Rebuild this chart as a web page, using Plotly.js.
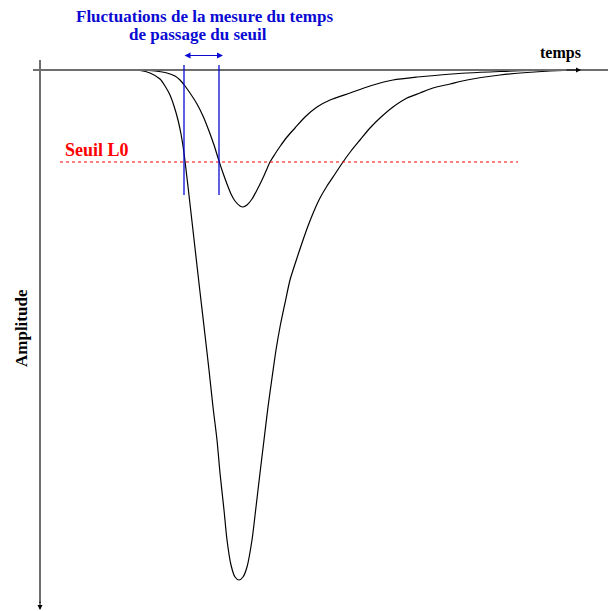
<!DOCTYPE html>
<html>
<head>
<meta charset="utf-8">
<script src="https://cdn.plot.ly/plotly-3.0.1.min.js"></script>
<style>html,body{margin:0;padding:0;background:#fff;}#chart{width:608px;height:611px;}</style>
</head>
<body>
<div id="chart"></div>
<script>
// time (horizontal) and amplitude (depth below baseline, downward positive)
const bigT = [40,100,130,140,150,160,165,170,174,178,181,183,185,190,195,200,205,209,213,217,220,224,227,231,235,239,243,247,252,256,260,264,268,272,276,280,285,290,296,302,308,314,320,327,335,343,351,360,370,380,393,407,420,433,450,467,500,550,580,608];
const bigA = [0,0,0,0.5,3,9,16,25,36,50,64,76,91,134,178,222,265,300,337,370,403,440,470,495,507,510,507,497,470,437,403,370,337,308,280,257,233,210,191,173,156,141,128,116,104,92,81,70,58,48,37,28,23,18,14,10,5,1,0,0];

const smallT = [40,130,143,155,167,175,180,185,190,197,203,209,214,219,223,227,231,235,240,243,247,252,257,262,266,270,275,280,287,295,305,317,330,350,370,393,417,440,467,500,550,608];
const smallA = [0,0,0,1,3,6,10,16,23,34,46,61,75,91,103,114,124,131,136,137,135,129,120,110,101,92,84,76.5,67,58,47,37,30,23,16,10,7,5,3,1.5,0,0];

const seuil = 92;            // threshold L0 amplitude
const seuilRange = [60, 518];
const tFluct = [184, 219];   // threshold crossing times
const labels = {
  title1: "Fluctuations de la mesure du temps",
  title2: "de passage du seuil",
  seuil: "Seuil L0",
  xlab: "temps",
  ylab: "Amplitude"
};

const blue = "#0a0ad2";
const red = "#ff0000";
const font = "Liberation Serif, Times New Roman, serif";

const traces = [
  {x: bigT, y: bigA, mode: "lines", line: {color: "#000", width: 1.2, shape: "spline", smoothing: 0.7}, hoverinfo: "skip"},
  {x: smallT, y: smallA, mode: "lines", line: {color: "#000", width: 1.2, shape: "spline", smoothing: 0.7}, hoverinfo: "skip"}
];

const shapes = [
  {type: "line", xref: "x", yref: "y", x0: 33, x1: 608, y0: 0, y1: 0, line: {color: "#6e6e6e", width: 2}},
  {type: "line", xref: "x", yref: "y", x0: 40, x1: 40, y0: -10, y1: 533, line: {color: "#6e6e6e", width: 2}},
  {type: "line", xref: "x", yref: "y", x0: seuilRange[0], x1: seuilRange[1], y0: seuil, y1: seuil, line: {color: red, width: 1, dash: "3px,3px"}},
  {type: "line", xref: "x", yref: "y", x0: tFluct[0], x1: tFluct[0], y0: -5, y1: 125, line: {color: blue, width: 1.3}},
  {type: "line", xref: "x", yref: "y", x0: tFluct[1], x1: tFluct[1], y0: -5, y1: 125, line: {color: blue, width: 1.3}}
];

const annotations = [
  {x: 204, y: -54, xref: "x", yref: "y", text: "<b>" + labels.title1 + "</b>", showarrow: false, xanchor: "center", yanchor: "middle", font: {family: font, size: 17, color: blue}},
  {x: 198, y: -36, xref: "x", yref: "y", text: "<b>" + labels.title2 + "</b>", showarrow: false, xanchor: "center", yanchor: "middle", font: {family: font, size: 17, color: blue}},
  {x: 96.5, y: 80, xref: "x", yref: "y", text: "<b>" + labels.seuil + "</b>", showarrow: false, xanchor: "center", yanchor: "middle", font: {family: font, size: 18, color: red}},
  {x: 560, y: -17, xref: "x", yref: "y", text: "<b>" + labels.xlab + "</b>", showarrow: false, xanchor: "center", yanchor: "middle", font: {family: font, size: 16, color: "#000"}},
  {x: 21, y: 258, xref: "x", yref: "y", text: "<b>" + labels.ylab + "</b>", textangle: -90, showarrow: false, xanchor: "center", yanchor: "middle", font: {family: font, size: 17, color: "#000"}},
  {x: tFluct[1] + 4, y: -14.5, ax: tFluct[0] - 1, ay: -14.5, xref: "x", yref: "y", axref: "x", ayref: "y", text: "", showarrow: true, arrowhead: 2, startarrowhead: 2, arrowside: "end+start", arrowsize: 1, startarrowsize: 1, arrowwidth: 1.2, arrowcolor: blue},
  {x: 581, y: 0, ax: 565, ay: 0, xref: "x", yref: "y", axref: "x", ayref: "y", text: "", showarrow: true, arrowhead: 2, arrowsize: 1, arrowwidth: 1, arrowcolor: "#000"},
  {x: 40, y: 540, ax: 40, ay: 530, xref: "x", yref: "y", axref: "x", ayref: "y", text: "", showarrow: true, arrowhead: 2, arrowsize: 1, arrowwidth: 1, arrowcolor: "#000"}
];

const layout = {
  width: 608, height: 611,
  margin: {l: 0, r: 0, t: 0, b: 0},
  paper_bgcolor: "#fff", plot_bgcolor: "#fff",
  showlegend: false,
  xaxis: {range: [0, 608], visible: false, fixedrange: true},
  yaxis: {range: [541, -70], visible: false, fixedrange: true},
  shapes: shapes,
  annotations: annotations
};

Plotly.newPlot("chart", traces, layout, {staticPlot: true, displayModeBar: false});
</script>
</body>
</html>
